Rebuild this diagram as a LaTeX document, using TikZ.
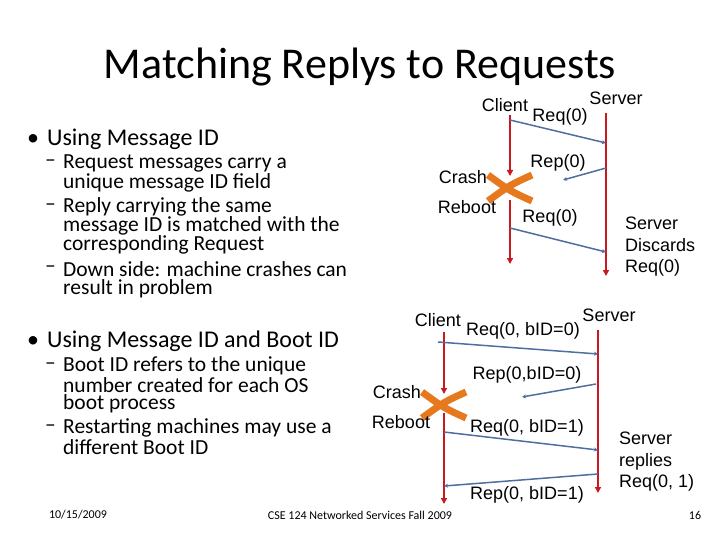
\documentclass[tikz,border=0pt]{standalone}
\usepackage{fontspec}
\setmainfont{Carlito}
\newfontfamily\arial{Liberation Sans}
\usetikzlibrary{arrows.meta}
\definecolor{tl}{RGB}{200,25,30}
\definecolor{msg}{RGB}{79,110,160}
\definecolor{xo}{RGB}{230,120,30}
\begin{document}
\begin{tikzpicture}[x=1pt,y=-1pt,
 tline/.style={tl,line width=1.8pt,-{Triangle[width=6pt,length=6pt]}},
 m/.style={msg,line width=1.5pt,-{Stealth[width=4pt,length=4pt]}},
 lb/.style={font=\arial\fontsize{18}{21}\selectfont,inner sep=0pt},
 tx/.style={font=\fontsize{21.5}{22}\selectfont,anchor=west,inner sep=0pt},
 bul/.style={font=\fontsize{24}{25}\selectfont,anchor=west,inner sep=0pt},
 xx/.style={xo,line width=7pt}]
\useasboundingbox (0,0) rectangle (720,540);
\node[font=\fontsize{44}{48}\selectfont] (title) at (360,67) {Matching Replys to Requests};
% left text
\node[bul] (b1) at (27,139) {•\hspace{8pt}Using Message ID};
\node[tx] (s1) at (45,163) {–};
\node[tx] (s1a) at (63,163) {Request messages carry a};
\node[tx] (s1b) at (63,183) {unique message ID field};
\node[tx] (s2) at (45,207) {–};
\node[tx] (s2a) at (63,207) {Reply carrying the same};
\node[tx] (s2b) at (63,226) {message ID is matched with the};
\node[tx] (s2c) at (63,245) {corresponding Request};
\node[tx] (s3) at (45,269) {–};
\node[tx] (s3a) at (63,269) {Down side: machine crashes can};
\node[tx] (s3b) at (63,289) {result in problem};
\node[bul] (b2) at (27,341) {•\hspace{8pt}Using Message ID and Boot ID};
\node[tx] (t1) at (45,366) {–};
\node[tx] (t1a) at (63,366) {Boot ID refers to the unique};
\node[tx] (t1b) at (63,385) {number created for each OS};
\node[tx] (t1c) at (63,404) {boot process};
\node[tx] (t2) at (45,428) {–};
\node[tx] (t2a) at (63,428) {Restarting machines may use a};
\node[tx] (t2b) at (63,447) {different Boot ID};
\node[font=\fontsize{12}{13}\selectfont] (f1) at (78,515) {10/15/2009};
\node[font=\fontsize{12}{13}\selectfont] (f2) at (360,515) {CSE 124 Networked Services Fall 2009};
\node[font=\fontsize{12}{13}\selectfont] (f3) at (695,515) {16};
% diagram 1
\coordinate (c1a) at (510,115); \coordinate (c1b) at (510,176);
\coordinate (c1c) at (510,200); \coordinate (c1d) at (510,264);
\coordinate (s1t) at (606,113); \coordinate (s1e) at (606,276);
\draw[tline] (c1a) -- (c1b);
\draw[tline] (c1c) -- (c1d);
\draw[tline] (s1t) -- (s1e);
\coordinate (m1a) at (510,120); \coordinate (m1b) at (606,143);
\coordinate (m2a) at (606,168); \coordinate (m2b) at (563,180);
\coordinate (m3a) at (510,228); \coordinate (m3b) at (606,252);
\draw[m] (m1a) -- (m1b);
\draw[m] (m2a) -- (m2b);
\draw[m] (m3a) -- (m3b);
\coordinate (x1) at (510,188);
\draw[xx] ([shift={(-22,-13)}]x1) .. controls ([shift={(0,3)}]x1) .. ([shift={(22,13)}]x1);
\draw[xx] ([shift={(-22,13)}]x1) .. controls ([shift={(0,-3)}]x1) .. ([shift={(22,-13)}]x1);
\node[lb] (cl1) at (505,105) {Client};
\node[lb] (sv1) at (616,98) {Server};
\node[lb] (r1) at (560,117) {Req(0)};
\node[lb] (p1) at (558,163) {Rep(0)};
\node[lb] (cr1) at (463,177) {Crash};
\node[lb] (rb1) at (467,207) {Reboot};
\node[lb] (r2) at (550,218) {Req(0)};
\node[lb,anchor=west,align=left,font=\arial\fontsize{18}{21.5}\selectfont] (sd) at (625,247) {Server\\Discards\\Req(0)};
% diagram 2
\coordinate (c2a) at (444,332); \coordinate (c2b) at (444,394);
\coordinate (c2c) at (444,413); \coordinate (c2d) at (444,504);
\coordinate (s2t) at (598,330); \coordinate (s2e) at (598,493);
\draw[tline] (c2a) -- (c2b);
\draw[tline] (c2c) -- (c2d);
\draw[tline] (s2t) -- (s2e);
\coordinate (n1a) at (438,342); \coordinate (n1b) at (598,354);
\coordinate (n2a) at (596,384); \coordinate (n2b) at (522,397);
\coordinate (n3a) at (444,432); \coordinate (n3b) at (598,450);
\coordinate (n4a) at (598,474); \coordinate (n4b) at (444,486);
\draw[m] (n1a) -- (n1b);
\draw[m] (n2a) -- (n2b);
\draw[m] (n3a) -- (n3b);
\draw[m] (n4a) -- (n4b);
\coordinate (x2) at (444,405);
\draw[xx] ([shift={(-22,-13)}]x2) .. controls ([shift={(0,3)}]x2) .. ([shift={(22,13)}]x2);
\draw[xx] ([shift={(-22,13)}]x2) .. controls ([shift={(0,-3)}]x2) .. ([shift={(22,-13)}]x2);
\node[lb] (cl2) at (438,320) {Client};
\node[lb] (sv2) at (609,315) {Server};
\node[lb] (q1) at (523,331) {Req(0, bID=0)};
\node[lb] (q2) at (527,375) {Rep(0,bID=0)};
\node[lb] (cr2) at (397,392) {Crash};
\node[lb] (rb2) at (401,422) {Reboot};
\node[lb] (q3) at (527,428) {Req(0, bID=1)};
\node[lb] (q4) at (527,495) {Rep(0, bID=1)};
\node[lb,anchor=west,align=left,font=\arial\fontsize{18}{21.5}\selectfont] (sr) at (619,462) {Server\\replies\\Req(0, 1)};
\end{tikzpicture}
\end{document}
